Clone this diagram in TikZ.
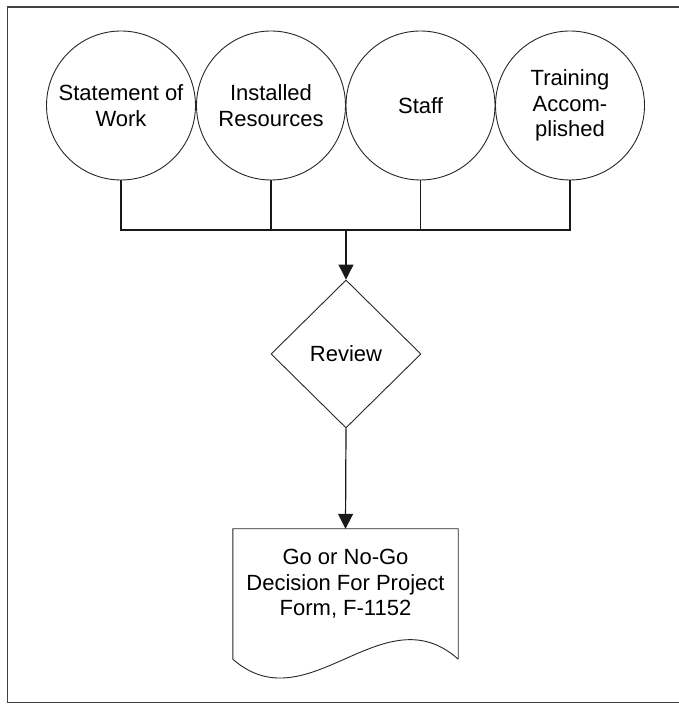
\documentclass[tikz,border=0pt]{standalone}
\usepackage{fontspec}
\setmainfont{Liberation Sans}
\usetikzlibrary{shapes.geometric,arrows.meta,calc}

\tikzset{
  frameline/.style={draw=black!75, line width=1.6pt},
  inputcircle/.style={circle, draw=black!85, line width=0.9pt, minimum size=149pt,
    inner sep=0pt, align=center, font=\fontsize{22}{25.5}\selectfont},
  decision/.style={diamond, draw=black!85, line width=0.9pt, minimum width=150pt,
    minimum height=148pt, inner sep=0pt, font=\fontsize{22}{25.5}\selectfont},
  docbox/.style={rectangle, minimum width=225pt, minimum height=130pt, inner sep=0pt},
  docoutline/.style={draw=black!85, line width=0.9pt},
  doctext/.style={align=center, font=\fontsize{22}{25.5}\selectfont},
  wire/.style={draw=black!90, line width=1.2pt},
  flow/.style={wire, -{Triangle[width=15pt,length=15pt]}}
}

\begin{document}
\begin{tikzpicture}[x=1pt,y=1pt]
  \useasboundingbox (0,0) rectangle (678,704);

  % page frame, open on the right
  \draw[frameline] (690,697) -- (7.5,697) -- (7.5,1.5) -- (690,1.5);

  % inputs
  \node[inputcircle] (c1) at (121,598.5) {Statement of\\Work};
  \node[inputcircle] (c2) at (271,598.5) {Installed\\Resources};
  \node[inputcircle] (c3) at (420.5,598.5) {Staff};
  \node[inputcircle] (c4) at (570,598.5) {Training\\Accom-\\plished};

  % decision
  \node[decision] (rev) at (346,350) {Review};

  % output document
  \node[docbox] (doc) at (345.5,110) {};
  \draw[docoutline] (doc.south east) -- (doc.north east) -- (doc.north west) -- (doc.south west)
    .. controls (308,-21) and (383,112) .. (doc.south east);
  \node[doctext] (doclabel) at (345.5,120) {Go or No-Go\\Decision For Project\\Form, F-1152};

  % collector bus
  \coordinate (bus) at (346,474);
  \draw[wire] (c1.south) -- (c1.south |- bus) -- (c4.south |- bus) -- (c4.south);
  \draw[wire] (c2.south) -- (c2.south |- bus);
  \draw[wire] (c3.south) -- (c3.south |- bus);

  % flow arrows
  \draw[flow] (bus) -- (rev.north);
  \draw[flow] (rev.south) -- (doc.north);
\end{tikzpicture}
\end{document}
